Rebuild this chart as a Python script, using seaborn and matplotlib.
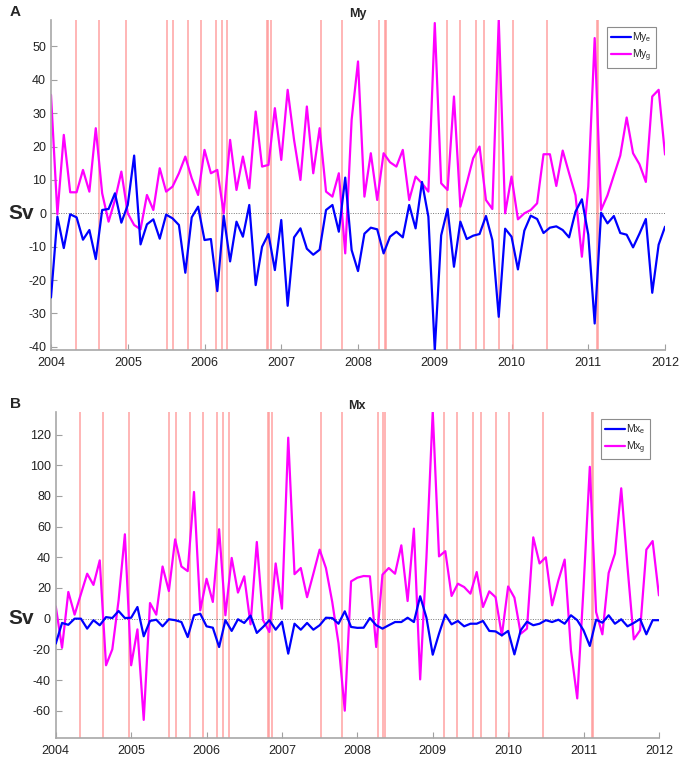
import numpy as np
import pandas as pd
import matplotlib
matplotlib.use('Agg')
import matplotlib.pyplot as plt
import matplotlib.transforms as mtransforms
import seaborn as sns

################################################################
# data (monthly, Jan 2004 .. Jan 2012):
months = 2004 + np.arange(97) / 12.0

my_e = [-25.2, -1, -10.4, -0.3, -1.2, -7.9, -5, -13.7, 1, 1.3, 6, -2.8,
        2.5, 17.3, -9.3, -3.3, -1.8, -7.6, -0.4, -1.5, -3.5, -17.8, -1.2, 2,
        -8, -7.7, -23.3, -0.7, -14.4, -2.5, -7, 2.5, -21.5, -10, -6.2, -17,
        -2, -27.7, -7.2, -4.5, -10.6, -12.4, -10.9, 1, 2.5, -5.5, 10.7, -11,
        -17.3, -6.1, -4.3, -4.8, -12, -7, -5.5, -7.2, 2.5, -4.5, 9.4, -1,
        -41, -6.6, 1.3, -16, -2.5, -7.7, -6.7, -6.2, -0.8, -8, -31, -4.6,
        -7, -16.8, -5.2, -0.7, -1.7, -5.9, -4.3, -3.9, -5, -7.2, 0.5, 4.2,
        -6.4, -33, 0.2, -3, -0.8, -5.9, -6.4, -10.2, -6.1, -1.7, -23.8, -9.4,
        -4]
my_g = [35.5, -0.3, 23.5, 6.3, 6.3, 13, 6.5, 25.5, 6, -2.5, 4, 12.5,
        0, -3.5, -4.8, 5.5, 1, 13.5, 6.5, 8, 12, 17, 10.5, 5.5,
        19, 12, 13, 0, 22, 7, 17, 7.5, 30.5, 14, 14.5, 31.5,
        16, 37, 22, 10, 32, 12, 25.5, 6.5, 5, 12, -12, 28,
        45.5, 5, 18, 4, 18, 15.3, 14, 19, 4, 11, 9, 6.5,
        57, 9, 7, 35, 2, 9, 16.5, 20, 4, 1.3, 58, 0,
        11, -1.8, 0, 1, 3, 17.7, 17.7, 8.2, 18.8, 12, 5.4, -13,
        8, 52.5, 1, 5.4, 11.4, 17.3, 28.7, 18, 14.7, 9.4, 35, 37,
        17.6]

mx_e = [-16.3, -2.8, -4, 0, 0, -6.5, -1, -4.3, 1, 0.4, 5, 0.4,
        0.6, 7.6, -11.5, -1.5, -0.7, -5, -0.4, -1, -2.2, -12, 2.2, 3.2,
        -5, -5.9, -18.5, -1, -8, -0.4, -2.8, 2, -9.3, -5.4, -1, -7.2,
        -2, -22.8, -3.3, -7.2, -2.8, -7.2, -4.3, 0.6, 0.4, -3.3, 4.8, -5.4,
        -6, -5.9, 0.4, -4.3, -6.5, -4.3, -2.2, -2.2, 0.6, -2.2, 14.6, 0.6,
        -23.5, -9.8, 2.6, -3.7, -1.5, -5, -3.3, -3.3, -1.5, -8, -8.3, -10.9,
        -8, -23.3, -7.6, -2, -4.3, -3.3, -1, -2.2, -0.7, -3.3, 2.2, -1,
        -7.6, -17.8, -0.7, -2.6, 2.2, -3.3, -0.4, -5, -2.8, -0.2, -10.2, -1,
        -1]
mx_g = [8, -19, 17.4, 2.6, 16, 29.3, 22, 38, -30.4, -20, 12, 55,
        -30.4, -7, -66, 10.2, 2.6, 34, 18, 51.7, 34, 31, 82.6, 5.4,
        26, 10.9, 58.3, 2.2, 39.6, 17, 27.6, -3.7, 50, -1, -8.7, 36,
        6.5, 118, 29, 33, 14, 29.3, 45, 33, 11, -16, -60, 24.3,
        26.7, 27.8, 27.6, -18.5, 28.7, 33, 29.3, 47.8, 11.5, 58.7, -39.6, 40,
        135, 40.6, 44, 14.8, 22.8, 20.6, 16.3, 30.4, 7.6, 17.8, 14, -11,
        21, 13.7, -9.8, -6.5, 53, 36, 40, 8.7, 25, 38.5, -20.7, -52,
        20, 99, 4.3, -10.2, 29.8, 42.4, 85, 33.7, -13.5, -7.6, 45, 50.6,
        15.2]

# event dates (decimal years) drawn as red vertical lines
events = [2004.32, 2004.63, 2004.972, 2005.507, 2005.59, 2005.785, 2005.952,
          2006.145, 2006.222, 2006.295, 2006.815, 2006.832, 2006.872,
          2007.522, 2007.795, 2008.272, 2008.345, 2008.362, 2009.156,
          2009.327, 2009.535, 2009.638, 2009.84, 2010.013, 2010.46,
          2011.112, 2011.127]

years = list(range(2004, 2013))

################################################################
# plot:
sns.set_style('white')
plt.rcParams['font.family'] = ['Liberation Sans', 'DejaVu Sans']
plt.rcParams['mathtext.default'] = 'regular'
plt.rcParams['axes.unicode_minus'] = False

fig = plt.figure(figsize=(6.8, 7.58), dpi=100)
ax_a = fig.add_axes([0.075, 0.538, 0.903, 0.436])
ax_b = fig.add_axes([0.082, 0.026, 0.887, 0.431])


def draw_panel(ax, e, g, name, letter, ylim, yticks):
    for ev in events:
        ax.axvline(ev, color='#ff9a9a', lw=1.2, alpha=0.85, zorder=1)
    ax.axhline(0, color='#777777', lw=0.7, ls=(0, (1, 1.5)), zorder=1)
    df = pd.DataFrame({'t': months, 'e': e, 'g': g})
    sns.lineplot(data=df, x='t', y='e', ax=ax, color='#0000ff', lw=1.6,
                 label=name + '$_e$', zorder=3)
    sns.lineplot(data=df, x='t', y='g', ax=ax, color='#ff00ff', lw=1.6,
                 label=name + '$_g$', zorder=2)
    ax.set_xlim(2004, 2012)
    ax.set_ylim(*ylim)
    ax.set_xticks(years)
    ax.set_xticklabels([str(y) for y in years])
    ax.set_yticks(yticks)
    ax.set_xlabel('')
    ax.set_ylabel('')
    for s in ['top', 'right']:
        ax.spines[s].set_visible(False)
    for s in ['left', 'bottom']:
        ax.spines[s].set_color('#a8a8a8')
        ax.spines[s].set_linewidth(1.2)
    ax.tick_params(direction='in', length=4, width=0.8, color='#a0a0a0',
                   labelsize=9, labelcolor='#222222', left=True, bottom=True)
    ax.tick_params(axis='x', pad=5)
    ax.set_title(name, fontsize=9, fontweight='bold', pad=2)
    leg = ax.legend(loc='upper right', fontsize=7.5, frameon=True, fancybox=False,
                    handlelength=1.9, handletextpad=0.15, borderpad=0.35,
                    borderaxespad=0.2, labelspacing=0.3,
                    bbox_to_anchor=(0.988, 0.985))
    leg.get_frame().set_edgecolor('#707070')
    leg.get_frame().set_linewidth(0.8)
    trans = mtransforms.blended_transform_factory(fig.transFigure, ax.transData)
    ax.text(0.012, 0, 'Sv', transform=trans, fontsize=15, fontweight='bold',
            va='center', ha='left')
    ax.text(0.014, ax.get_position().y1 + 0.01, letter, transform=fig.transFigure,
            fontsize=11, fontweight='bold', va='center', ha='left')


draw_panel(ax_a, my_e, my_g, 'My', 'A', (-41, 58), list(range(-40, 51, 10)))
draw_panel(ax_b, mx_e, mx_g, 'Mx', 'B', (-78, 135), list(range(-60, 121, 20)))

plt.savefig('out.png', dpi=100)
